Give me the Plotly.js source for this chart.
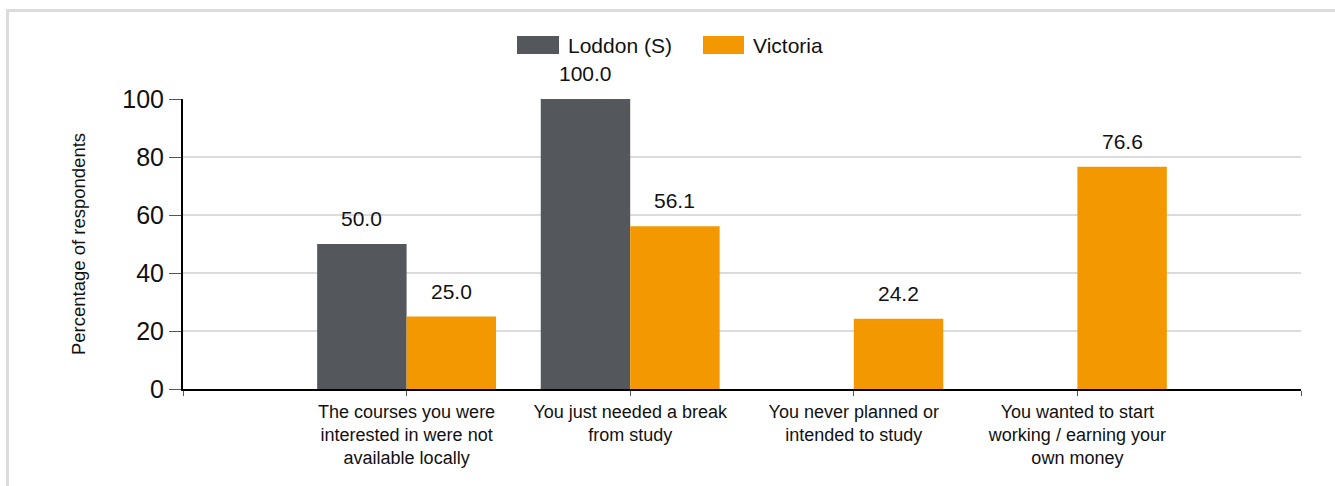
<!DOCTYPE html>
<html>
<head>
<meta charset="utf-8">
<script src="https://cdn.plot.ly/plotly-3.0.1.min.js"></script>
<style>
  html, body { margin: 0; padding: 0; background: #fff; }
  #frame { position: absolute; left: 6px; top: 9px; width: 1340px; height: 500px; border: 3px solid #dcdcdc; pointer-events: none; }
  #chart { position: absolute; left: 0; top: 0; width: 1335px; height: 486px; }
</style>
</head>
<body>
<div id="chart"></div>
<div id="frame"></div>
<script>
const categories = [
  "The courses you were<br>interested in were not<br>available locally",
  "You just needed a break<br>from study",
  "You never planned or<br>intended to study",
  "You wanted to start<br>working / earning your<br>own money"
];
const seriesNames = ["Loddon (S)", "Victoria"];
const loddon = [50.0, 100.0, 0, 0];
const victoria = [25.0, 56.1, 24.2, 76.6];
const yTicks = [0, 20, 40, 60, 80, 100];

const FONT = "'Liberation Sans', Arial, sans-serif";
const colors = ["#54575b", "#f39800"];
const xpos = categories.map((c, i) => i + 1);
const W = 1335, H = 486;
const L = 183, R = 34, T = 99, B = 97;
const pw = W - L - R, ph = H - T - B;
const px2x = p => (p - L) / pw;
const py2y = p => (H - B - p) / ph;

const traces = [loddon, victoria].map((vals, k) => ({
  type: "bar",
  name: seriesNames[k],
  x: xpos,
  y: vals,
  marker: { color: colors[k], line: { width: 0 } },
  hoverinfo: "skip",
  showlegend: false
}));

const annotations = [];
[loddon, victoria].forEach((vals, k) => {
  vals.forEach((v, i) => {
    if (v > 0) {
      annotations.push({
        x: xpos[i] + (k === 0 ? -0.2 : 0.2), y: v, xref: "x", yref: "y",
        text: v.toFixed(1), showarrow: false, yanchor: "bottom", yshift: 12,
        font: { family: FONT, size: 21, color: "#111" }
      });
    }
  });
});

// legend drawn manually
const legendItems = [{ x0: 517, x1: 559, tx: 566 }, { x0: 703, x1: 744, tx: 751 }];
const shapes = [];
legendItems.forEach((it, k) => {
  shapes.push({ type: "rect", xref: "paper", yref: "paper",
    x0: px2x(it.x0), x1: px2x(it.x1), y0: py2y(54), y1: py2y(36),
    fillcolor: colors[k], line: { width: 0 } });
  annotations.push({ xref: "paper", yref: "paper", x: px2x(it.tx), y: py2y(45),
    xanchor: "left", yanchor: "middle", showarrow: false, text: seriesNames[k],
    font: { family: FONT, size: 21, color: "#111" } });
});

const layout = {
  width: W, height: H,
  margin: { l: L, r: R, t: T, b: B },
  paper_bgcolor: "#fff", plot_bgcolor: "#fff",
  font: { family: FONT, color: "#111" },
  barmode: "group", bargap: 0.2, bargroupgap: 0,
  showlegend: false,
  xaxis: {
    type: "linear", range: [0, 5],
    tickvals: [0].concat(xpos, [5]),
    ticktext: [""].concat(categories, [""]),
    ticks: "outside", ticklen: 5, tickwidth: 1, tickcolor: "#555",
    showgrid: false, zeroline: false,
    showline: true, linecolor: "#000", linewidth: 2,
    tickfont: { family: FONT, size: 18, color: "#111" },
    automargin: false, fixedrange: true
  },
  yaxis: {
    range: [0, 100], tickvals: yTicks,
    ticks: "outside", ticklen: 12, tickwidth: 1, tickcolor: "#555",
    showgrid: true, gridcolor: "#dcdcdc", gridwidth: 2,
    zeroline: false, showline: true, linecolor: "#000", linewidth: 2,
    tickfont: { family: FONT, size: 25, color: "#111" },
    title: { text: "Percentage of respondents", font: { family: FONT, size: 18.5, color: "#111" }, standoff: 32 },
    automargin: false, fixedrange: true
  },
  annotations: annotations,
  shapes: shapes
};

Plotly.newPlot("chart", traces, layout, { displayModeBar: false, staticPlot: true });
</script>
</body>
</html>
